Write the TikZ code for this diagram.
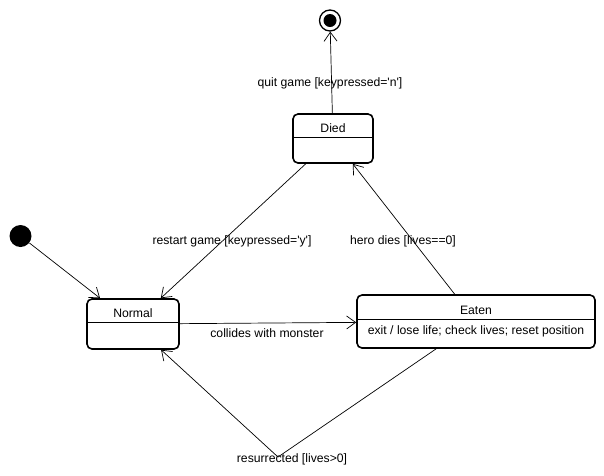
\documentclass[tikz,border=0pt]{standalone}
\usepackage{fontspec}
\setmainfont{Liberation Sans}
\usetikzlibrary{arrows.meta,calc}
\newcommand{\sq}{\textquotesingle}
\begin{document}
\begin{tikzpicture}[x=1pt,y=-1pt,
  every node/.style={font=\fontsize{12.2}{14}\selectfont},
  state/.style={draw, line width=1.6pt, rounded corners=5pt, inner sep=0pt},
  lbl/.style={inner sep=0pt},
  trans/.style={draw, line width=0.7pt, -{Straight Barb[length=9pt,width=13pt,line width=0.7pt]}},
  divider/.style={line width=0.8pt}]
\useasboundingbox (0,0) rectangle (604,475);

% states
\node[state, minimum width=92pt, minimum height=50pt] (normal) at (133,324) {};
\node[state, minimum width=80pt, minimum height=49pt] (died) at (333,138.5) {};
\node[state, minimum width=238pt, minimum height=53pt] (eaten) at (476,321.5) {};

% compartments
\draw[divider] (normal.west |- 0,322) -- (normal.east |- 0,322);
\draw[divider] (died.west |- 0,137) -- (died.east |- 0,137);
\draw[divider] (eaten.west |- 0,319) -- (eaten.east |- 0,319);

\node[lbl] (normalname) at (133,313) {Normal};
\node[lbl] (diedname) at (333,128) {Died};
\node[lbl] (eatenname) at (476,310) {Eaten};
\node[lbl] (eatenact) at (476,331) {exit / lose life; check lives; reset position};

% pseudo states
\node[circle, fill=black, minimum size=22pt, inner sep=0pt] (init) at (20.5,236) {};
\node[circle, draw, line width=1.3pt, minimum size=21pt, inner sep=0pt] (final) at (330,20.5) {};
\node[circle, fill=black, minimum size=13pt, inner sep=0pt] (finaldot) at (final) {};

\coordinate (bend) at (278,457);

% transitions
\draw[trans] (init) -- (normal);
\draw[trans] (died) -- (final);
\draw[trans] (died) -- (normal);
\draw[trans] (eaten) -- (died);
\draw[trans] (normal) -- (eaten);
\draw[trans] (eaten) -- (bend) -- (normal);

% transition labels
\node[lbl] (lquit) at (330,83) {quit game [keypressed=\sq n\sq]};
\node[lbl] (lrestart) at (232,241) {restart game [keypressed=\sq y\sq]};
\node[lbl] (lhero) at (403,241) {hero dies [lives==0]};
\node[lbl] (lcoll) at (267,333) {collides with monster};
\node[lbl] (lres) at (292,459) {resurrected [lives>0]};
\end{tikzpicture}
\end{document}
